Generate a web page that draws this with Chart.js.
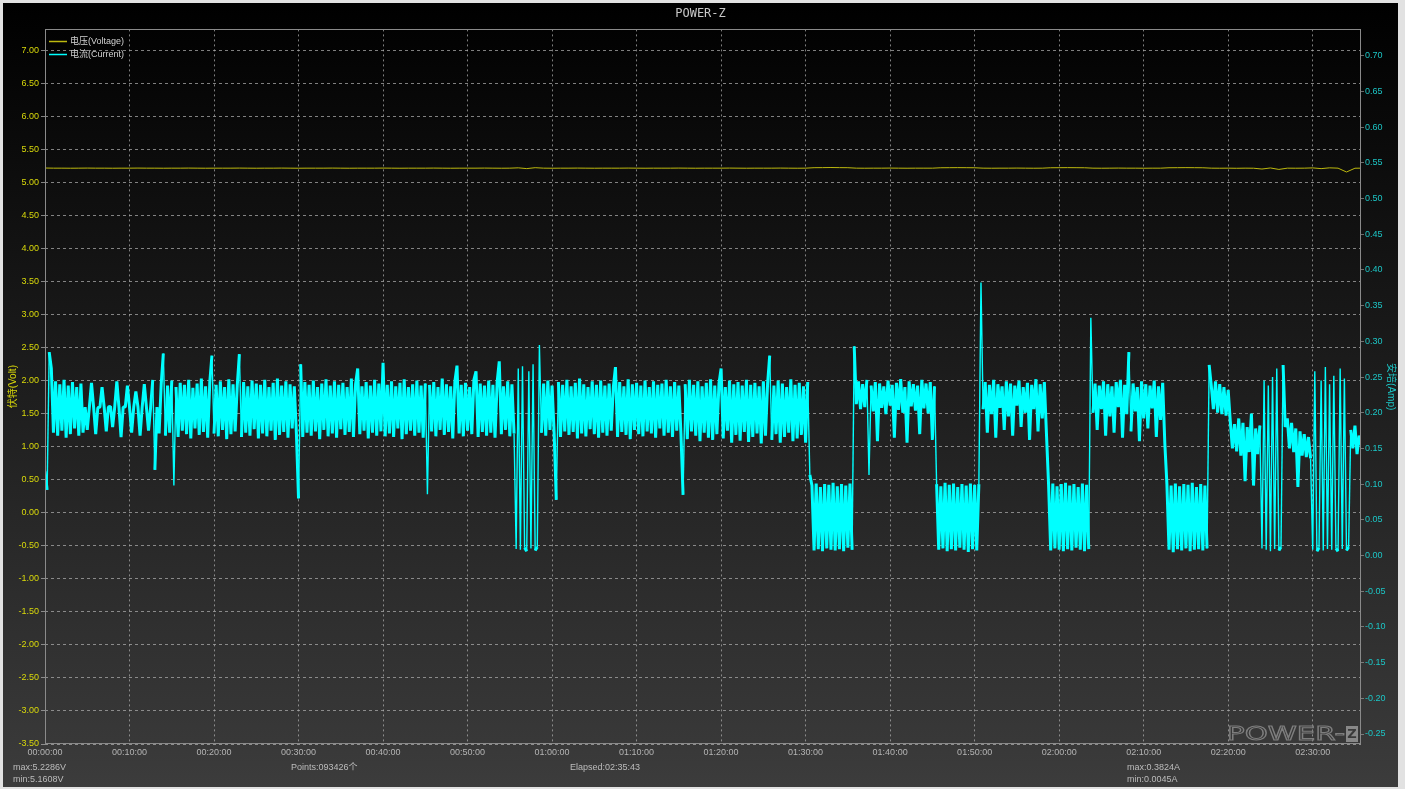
<!DOCTYPE html>
<html>
<head>
<meta charset="utf-8">
<title>POWER-Z</title>
<script src="https://cdn.jsdelivr.net/npm/chart.js@4.4.1/dist/chart.umd.min.js"></script>
<style>
  html, body { margin: 0; padding: 0; background: #e2e2e2; }
  #frame {
    position: absolute; left: 3px; top: 3px; width: 1395px; height: 784px;
    background: linear-gradient(to bottom, #000 0%, #383838 94%, #3c3c3c 100%);
  }
  canvas { display: block; }
</style>
</head>
<body>
<div id="frame"><canvas id="meter" width="1395" height="784"></canvas></div>
<script>
// ---- recording ----------------------------------------------------------
const DURATION_S = 9343;          // 02:35:43
const POINTS_LABEL = '093426个';
const CURRENT_STEP_S = 15;        // one value per 15 s
const VOLTAGE_STEP_S = 60;        // one value per 60 s

// current, mA, consecutive 15 s samples (min/max alternation of the raw log)
const ampStart      = [118, 92, 285, 262];
const ampBandA      = [172, 244, 168, 240, 175, 246, 165, 238, 170, 243, 178, 236, 168, 241, 172];
const ampSettle     = [208, 176, 208, 242, 208, 170, 207, 208, 236, 208, 174, 208, 209, 180, 208, 244, 208, 166,
                       208, 208, 238, 208, 172, 208, 230, 208, 168, 208, 240, 208, 175, 208, 246, 120, 208, 171];
const ampBandB      = [240, 283, 168, 238, 172, 245, 98, 236, 166, 242, 175, 239,
                       170, 246, 164, 235, 178, 241, 169, 248, 173, 237, 165, 243,
                       280, 171, 239, 167, 244, 176, 236, 163, 247, 170, 240, 174,
                       238, 282, 166, 243, 172, 237, 168, 245, 177, 241, 164, 239,
                       171, 246, 167, 236, 175, 242, 162, 248, 169, 238, 173, 244,
                       165, 240, 178, 237, 170, 80, 268, 166, 243, 172, 239, 168,
                       245, 174, 236, 163, 241, 176, 247, 167, 238, 171, 244, 165,
                       239, 177, 242, 169, 236, 173, 248, 166, 240, 262, 170, 237,
                       175, 243, 164, 238, 172, 246, 168, 241, 174, 270, 167, 239,
                       171, 244, 166, 237, 178, 242, 163, 247, 170, 236, 175, 240,
                       168, 245, 172, 238, 165, 241, 86, 239, 174, 243, 167, 236,
                       176, 248, 169, 240, 173, 237, 164, 244, 266, 171, 239, 167,
                       242, 175, 236, 170, 246, 258, 166, 241, 173, 238, 168, 245,
                       172, 239, 165, 243, 272, 170, 237, 176, 244, 167, 240, 171];
const ampDropout1   = [9, 262, 8, 265, 11, 6, 258, 10, 268, 7, 12, 295];
const ampBandC      = [172, 241, 168, 245, 176, 238, 170, 78, 243, 166, 239, 174,
                       246, 169, 237, 173, 242, 164, 248, 171, 240, 167, 236, 177,
                       244, 170, 239, 165, 245, 172, 238, 168, 241, 175, 236, 264,
                       166, 243, 173, 237, 169, 247, 163, 240, 176, 242, 170, 238,
                       167, 245, 174, 236, 171, 244, 165, 239, 178, 241, 168, 246,
                       172, 237, 166, 243, 175, 238, 170, 85, 240, 163, 246, 174,
                       239, 168, 244, 160, 237, 172, 242, 165, 247, 162, 238, 170,
                       241, 262, 164, 236, 175, 245, 158, 240, 169, 243, 161, 238,
                       173, 246, 159, 239, 166, 242, 171, 237, 157, 244, 168, 240,
                       280, 162, 238, 170, 245, 158, 241, 166, 236, 172, 247, 160,
                       239, 164, 242, 169, 237, 158, 243];
const ampStepDown   = [113];
const ampIdle1      = [98, 7, 101, 9, 96, 6, 100, 10, 99, 8, 102, 7, 97, 9, 100, 6, 98, 11, 101, 8];
const ampLoad1      = [293, 212, 244, 205, 240, 208, 246, 113, 238, 202, 243, 160, 241, 207, 237, 198, 245, 210, 239, 165,
                       242, 204, 247, 200, 236, 158, 244, 209, 240, 203, 238, 170, 246, 206, 241, 199, 243, 162, 237];
const ampIdle2      = [100, 8, 97, 10, 102, 6, 99, 9, 101, 7, 96, 11, 100, 8, 98, 5, 101, 9, 99, 7, 100];
const ampLoad2      = [382.4, 205, 243, 172, 239, 198, 246, 165, 240, 207, 237, 176, 244, 195, 241, 168,
                       238, 210, 245, 180, 236, 200, 242, 162, 239, 205, 247, 174, 240, 192, 243, 170];
const ampIdle3      = [99, 7, 101, 10, 97, 8, 100, 6, 102, 9, 98, 7, 100, 11, 96, 8, 101, 6, 99, 9];
const ampLoad3      = [333, 200, 241, 176, 238, 205, 244, 168, 240, 195, 237, 172, 243, 208, 246, 165, 239, 198,
                       285, 174, 241, 202, 236, 160, 244, 192, 240, 178, 238, 206, 245, 166, 237, 190, 242, 158];
const ampIdle4      = [100, 8, 98, 4.5, 101, 9, 97, 7, 100, 10, 99, 6, 102, 8, 96, 9, 100, 7, 98, 10];
const ampLoad4      = [267, 238, 205, 244, 200, 240, 198, 236, 196, 232];
const ampTaper      = [188, 150, 184, 146, 192, 140, 186, 104, 180, 145, 199, 98, 178, 142, 182];
const ampDropout2   = [10, 245, 8, 238, 6, 250, 9, 262, 7, 12];
const ampTaper2     = [267, 180, 192, 150, 186, 145, 178, 96, 174, 140, 170, 138, 166, 136];
const ampDropout3   = [8, 258, 6, 11, 245, 7, 264, 9, 240, 8, 252, 10, 6, 262, 9, 248, 7, 12];
const ampTail       = [176, 150, 182, 142, 168, 155];

// voltage, V, consecutive 60 s samples
const voltage = [
  5.221, 5.219, 5.219, 5.218, 5.219, 5.220, 5.219, 5.219, 5.218, 5.219, 5.219, 5.220, 5.219,
  5.219, 5.218, 5.219, 5.219, 5.220, 5.219, 5.218, 5.219, 5.219, 5.219, 5.220, 5.219, 5.218,
  5.219, 5.219, 5.220, 5.219, 5.218, 5.219, 5.219, 5.219, 5.220, 5.219, 5.218, 5.219, 5.219,
  5.219, 5.220, 5.219, 5.218, 5.219, 5.219, 5.219, 5.220, 5.219, 5.218, 5.219, 5.219, 5.219,
  5.220, 5.219, 5.218, 5.219, 5.224, 5.212, 5.226, 5.219, 5.218, 5.219, 5.219, 5.220, 5.219,
  5.218, 5.219, 5.219, 5.219, 5.220, 5.219, 5.218, 5.219, 5.219, 5.219, 5.220, 5.219, 5.218,
  5.219, 5.219, 5.219, 5.220, 5.219, 5.218, 5.219, 5.219, 5.219, 5.220, 5.219, 5.218, 5.219,
  5.226, 5.227, 5.2286, 5.227, 5.226, 5.219, 5.218, 5.219, 5.219, 5.220, 5.219, 5.218, 5.219,
  5.219, 5.219, 5.225, 5.226, 5.227, 5.226, 5.225, 5.219, 5.218, 5.219, 5.219, 5.220, 5.219,
  5.218, 5.219, 5.225, 5.226, 5.227, 5.226, 5.225, 5.219, 5.218, 5.219, 5.220, 5.219, 5.219,
  5.218, 5.219, 5.219, 5.225, 5.226, 5.227, 5.226, 5.225, 5.219, 5.218, 5.219, 5.217, 5.219,
  5.218, 5.206, 5.222, 5.200, 5.219, 5.218, 5.219, 5.223, 5.212, 5.224, 5.219, 5.1608, 5.218,
  5.219
];

// ---- axes ---------------------------------------------------------------
const timeLabels = ['00:00:00', '00:10:00', '00:20:00', '00:30:00', '00:40:00', '00:50:00', '01:00:00', '01:10:00',
                    '01:20:00', '01:30:00', '01:40:00', '01:50:00', '02:00:00', '02:10:00', '02:20:00', '02:30:00'];
const voltTicks = [-3.5, -3.0, -2.5, -2.0, -1.5, -1.0, -0.5, 0.0, 0.5, 1.0, 1.5, 2.0, 2.5, 3.0, 3.5,
                   4.0, 4.5, 5.0, 5.5, 6.0, 6.5, 7.0];
const ampTicks  = [-0.25, -0.20, -0.15, -0.10, -0.05, 0.00, 0.05, 0.10, 0.15, 0.20, 0.25, 0.30, 0.35,
                   0.40, 0.45, 0.50, 0.55, 0.60, 0.65, 0.70];
const VOLT_RANGE = [-3.5, 7.32];
const AMP_RANGE  = [-0.264, 0.737];

// ---- derived series ------------------------------------------------------
const currentMa = [].concat(ampStart, ampBandA, ampSettle, ampBandB, ampDropout1, ampBandC, ampStepDown,
  ampIdle1, ampLoad1, ampIdle2, ampLoad2, ampIdle3, ampLoad3, ampIdle4, ampLoad4, ampTaper,
  ampDropout2, ampTaper2, ampDropout3, ampTail);
const currentPts = currentMa.map((v, i) => ({ x: i * CURRENT_STEP_S, y: v / 1000 }));
const voltagePts = voltage.map((v, i) => ({ x: i * VOLTAGE_STEP_S, y: v }));
const toSeconds = s => { const [h, m, sec] = s.split(':').map(Number); return h * 3600 + m * 60 + sec; };
const timeTickSeconds = timeLabels.map(toSeconds);
const hms = t => [Math.floor(t / 3600), Math.floor(t / 60) % 60, t % 60].map(n => String(n).padStart(2, '0')).join(':');

const inRange = (v, r) => v >= r[0] - 1e-9 && v <= r[1] + 1e-9;
const UI_FONT = '"Liberation Sans", "Noto Sans CJK SC", sans-serif';
const VOLT_COLOR = '#bdb90f';
const VOLT_TEXT = '#d9d90a';
const AMP_COLOR = '#00ffff';
const AMP_TEXT = '#1cc6c6';
const GRID_COLOR = 'rgba(170,170,170,0.75)';
const SPIKE_SWING_A = 0.105;     // jumps larger than this are single-sample spikes: draw them thin

// frame border, in-plot legend, logo and the statistics strip
const meterDecor = {
  id: 'meterDecor',
  afterDraw(chart) {
    const { ctx, chartArea: a } = chart;
    ctx.save();
    ctx.strokeStyle = '#8a8a8a';
    ctx.lineWidth = 1;
    ctx.strokeRect(Math.round(a.left) + 0.5, Math.round(a.top) + 0.5,
                   Math.round(a.right - a.left) - 1, Math.round(a.bottom - a.top) - 1);

    // legend
    ctx.font = '9px ' + UI_FONT;
    ctx.textBaseline = 'middle';
    const legend = [['电压(Voltage)', VOLT_COLOR, 38.5], ['电流(Current)', AMP_COLOR, 51.5]];
    legend.forEach(([label, color, y]) => {
      ctx.strokeStyle = color; ctx.lineWidth = 1.5;
      ctx.beginPath(); ctx.moveTo(a.left + 4, y); ctx.lineTo(a.left + 22, y); ctx.stroke();
      ctx.fillStyle = '#d2d2d2';
      ctx.fillText(label, a.left + 25, y + 0.5);
    });

    // logo
    ctx.save();
    ctx.font = '19px "DejaVu Sans"';
    const word = 'POWER-';
    const w = ctx.measureText(word).width;
    const targetW = 118;
    ctx.translate(a.right - 134, a.bottom - 4);
    ctx.scale(targetW / w, 1);
    ctx.textBaseline = 'alphabetic';
    ctx.strokeStyle = '#7e7e7e';
    ctx.lineWidth = 1;
    ctx.strokeText(word, 0, 0);
    ctx.restore();
    ctx.fillStyle = '#888';
    ctx.fillRect(a.right - 15, a.bottom - 18, 12, 16);
    ctx.fillStyle = '#3a3a3a';
    ctx.font = 'bold 13px "DejaVu Sans"';
    ctx.textAlign = 'center';
    ctx.fillText('Z', a.right - 9, a.bottom - 9.5);

    // statistics strip
    const vMax = Math.max(...voltage), vMin = Math.min(...voltage);
    const aMax = Math.max(...currentMa) / 1000, aMin = Math.min(...currentMa) / 1000;
    ctx.textAlign = 'left';
    ctx.fillStyle = '#bcbcbc';
    ctx.font = '9px ' + UI_FONT;
    ctx.fillText('max:' + vMax.toFixed(4) + 'V', 10, 765);
    ctx.fillText('min:' + vMin.toFixed(4) + 'V', 10, 777);
    ctx.fillText('Points:' + POINTS_LABEL, 288, 765);
    ctx.fillText('Elapsed:' + hms(DURATION_S), 567, 765);
    ctx.fillText('max:' + aMax.toFixed(4) + 'A', 1124, 765);
    ctx.fillText('min:' + aMin.toFixed(4) + 'A', 1124, 777);
    ctx.restore();
  }
};

new Chart(document.getElementById('meter'), {
  type: 'line',
  data: {
    datasets: [
      { label: '电压(Voltage)', data: voltagePts, yAxisID: 'y', borderColor: VOLT_COLOR, borderWidth: 1,
        pointRadius: 0, tension: 0, fill: false },
      { label: '电流(Current)', data: currentPts, yAxisID: 'y1', borderColor: AMP_COLOR, borderWidth: 3,
        borderJoinStyle: 'bevel', pointRadius: 0, tension: 0, fill: false,
        segment: {
          borderWidth: c => Math.abs(c.p1.parsed.y - c.p0.parsed.y) > SPIKE_SWING_A ? 1.4 : 3
        } }
    ]
  },
  options: {
    responsive: false,
    animation: false,
    devicePixelRatio: 1,
    events: [],
    layout: { padding: 0 },
    plugins: {
      legend: { display: false },
      tooltip: { enabled: false },
      title: {
        display: true, text: 'POWER-Z', color: '#c8c8c8',
        font: { family: '"DejaVu Sans Mono"', size: 12, weight: 'normal' },
        padding: { top: 4, bottom: 8 }
      }
    },
    scales: {
      x: {
        type: 'linear', min: 0, max: DURATION_S,
        afterBuildTicks: s => { s.ticks = timeTickSeconds.map(v => ({ value: v })); },
        afterFit: s => { s.height = 43; },
        ticks: { color: '#b4b4b4', font: { family: UI_FONT, size: 9 }, padding: 3, maxRotation: 0,
                 autoSkip: false, callback: (v, i) => timeLabels[i] },
        grid: { color: GRID_COLOR, drawTicks: false, lineWidth: 1 },
        border: { display: false, dash: [2, 3] }
      },
      y: {
        position: 'left', min: VOLT_RANGE[0], max: VOLT_RANGE[1],
        afterBuildTicks: s => { s.ticks = voltTicks.filter(v => inRange(v, VOLT_RANGE)).map(v => ({ value: v })); },
        afterFit: s => { s.width = 42; },
        ticks: { color: VOLT_TEXT, font: { family: UI_FONT, size: 9 }, padding: 2, autoSkip: false,
                 callback: v => Number(v).toFixed(2) },
        grid: { color: GRID_COLOR, lineWidth: 1, drawTicks: true, tickLength: 4 },
        border: { display: false, dash: [3, 3] },
        title: { display: true, text: '伏特(Volt)', color: VOLT_TEXT,
                 font: { family: UI_FONT, size: 10 }, padding: { top: 4, bottom: 0 } }
      },
      y1: {
        position: 'right', min: AMP_RANGE[0], max: AMP_RANGE[1],
        afterBuildTicks: s => { s.ticks = ampTicks.filter(v => inRange(v, AMP_RANGE)).map(v => ({ value: v })); },
        afterFit: s => { s.width = 37; },
        ticks: { color: AMP_TEXT, font: { family: UI_FONT, size: 9 }, padding: 1, autoSkip: false,
                 callback: v => Number(v).toFixed(2) },
        grid: { drawOnChartArea: false, color: 'rgba(170,170,170,0.6)', drawTicks: true, tickLength: 3 },
        border: { display: false },
        title: { display: true, text: '安培(Amp)', color: AMP_TEXT,
                 font: { family: UI_FONT, size: 10 }, padding: { top: 1, bottom: 0 } }
      }
    }
  },
  plugins: [meterDecor]
});
</script>
</body>
</html>
